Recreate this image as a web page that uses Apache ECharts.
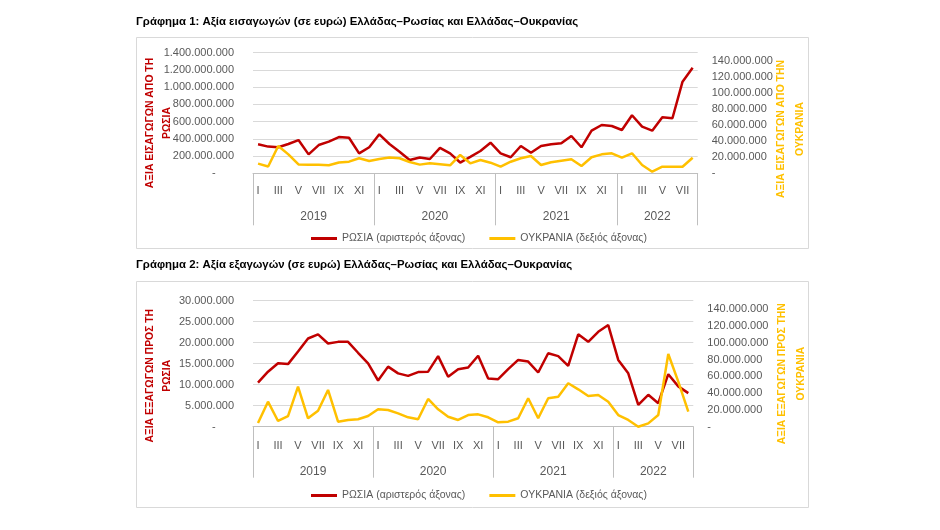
<!DOCTYPE html>
<html>
<head>
<meta charset="utf-8">
<script src="https://cdn.jsdelivr.net/npm/echarts@6/dist/echarts.min.js"></script>
<style>
html, body { margin: 0; padding: 0; background: #fff; }
#chart { width: 940px; height: 530px; }
</style>
</head>
<body>
<div id="chart"></div>
<script>
// months shown on the first axis row, years on the second
var monthNames = ['I', 'II', 'III', 'IV', 'V', 'VI', 'VII', 'VIII', 'IX', 'X', 'XI', 'XII'];
var years = ['2019', '2020', '2021', '2022'];
var monthsPerYear = [12, 12, 12, 8];

// Γράφημα 1: εισαγωγές (ευρώ)
var russiaImports = [
  337000000, 310000000, 302000000, 340000000, 386000000, 220000000, 328000000, 367000000, 421000000, 413000000, 232000000, 302000000,
  453000000, 340000000, 251000000, 154000000, 184000000, 166000000, 295000000, 232000000, 125000000, 190000000, 259000000, 355000000,
  232000000, 186000000, 317000000, 239000000, 317000000, 337000000, 348000000, 433000000, 302000000, 495000000, 561000000, 549000000,
  503000000, 674000000, 541000000, 495000000, 650000000, 639000000, 1064000000, 1226000000
];
var ukraineImports = [
  12000000, 8500000, 34000000, 23500000, 11000000, 10500000, 10500000, 10000000, 13500000, 14500000, 18700000, 15300000,
  17800000, 19600000, 18700000, 14000000, 10800000, 12400000, 11400000, 9900000, 22800000, 12400000, 16500000, 13200000,
  8200000, 14400000, 18700000, 21500000, 10300000, 13700000, 15700000, 17400000, 9100000, 19900000, 23600000, 24900000,
  19400000, 24900000, 10300000, 2000000, 8200000, 8200000, 8200000, 19400000
];

// Γράφημα 2: εξαγωγές (ευρώ)
var russiaExports = [
  10500000, 13100000, 15100000, 14900000, 17900000, 21000000, 22000000, 19800000, 20200000, 20200000, 17600000, 15100000,
  11000000, 14300000, 12700000, 12100000, 13000000, 13100000, 16800000, 11900000, 13700000, 14100000, 16900000, 11500000,
  11300000, 13700000, 15900000, 15500000, 12900000, 17500000, 16800000, 14500000, 22000000, 20200000, 22600000, 24200000,
  15900000, 12700000, 5200000, 7600000, 5600000, 12500000, 9600000, 8000000
];
var ukraineExports = [
  4500000, 29800000, 6800000, 12700000, 47600000, 10000000, 19000000, 43700000, 6000000, 8000000, 8800000, 12700000,
  20700000, 19900000, 15900000, 11200000, 8800000, 33000000, 20700000, 11900000, 8000000, 13900000, 14700000, 11200000,
  5200000, 6000000, 10000000, 33800000, 10000000, 33800000, 35700000, 51700000, 44500000, 36500000, 37700000, 29800000,
  13900000, 8000000, 0, 4000000, 13900000, 86500000, 53600000, 17900000
];

// axis ranges (tick labels)
var leftMax1 = 1400000000, leftStep1 = 200000000;
var leftMax2 = 30000000, leftStep2 = 5000000;
var rightMax = 150000000, rightStep = 20000000;

var RED = '#c00000', YELLOW = '#ffc000', GREY = '#595959';
var FONT = 'Liberation Sans';

var monthAxisData = [];
years.forEach(function (y, k) {
  monthAxisData = monthAxisData.concat(monthNames.slice(0, monthsPerYear[k]));
});
var yearBounds = [0];
monthsPerYear.forEach(function (n) { yearBounds.push(yearBounds[yearBounds.length - 1] + n); });
var yearLabelAt = {};
years.forEach(function (y, k) { yearLabelAt[(yearBounds[k] + yearBounds[k + 1]) / 2] = y; });
var yearAxisData = [];
for (var b = 0; b <= monthAxisData.length; b++) yearAxisData.push(String(b));

function fmt(v) {
  if (v === 0) return '-';
  return String(v).replace(/\B(?=(\d{3})+(?!\d))/g, '.');
}

function monthAxis(grid, margin) {
  return {
    type: 'category', gridIndex: grid, data: monthAxisData, boundaryGap: true,
    axisLine: { lineStyle: { color: '#bfbfbf', width: 1 } },
    axisTick: { show: false },
    axisLabel: { interval: 1, color: GREY, fontSize: 11, fontFamily: FONT, margin: margin }
  };
}
function yearAxis(grid, tickLen, labelMargin) {
  return {
    type: 'category', gridIndex: grid, position: 'bottom', data: yearAxisData, boundaryGap: false,
    axisLine: { show: false },
    axisTick: {
      show: true, length: tickLen, lineStyle: { color: '#bfbfbf' },
      interval: function (i) { return yearBounds.indexOf(i) >= 0; }
    },
    axisLabel: {
      color: GREY, fontSize: 12, fontFamily: FONT, margin: labelMargin,
      interval: function (i) { return yearLabelAt[i] !== undefined; },
      formatter: function (v, i) { return yearLabelAt[i] || ''; }
    },
    splitLine: { show: false }
  };
}
function leftAxis(grid, max, step, name, shift) {
  return {
    type: 'value', gridIndex: grid, min: 0, max: max, interval: step, position: 'left',
    name: name, nameLocation: 'middle', nameRotate: 90, nameGap: 77, nameMoveOverlap: false,
    nameTextStyle: { color: RED, fontWeight: 'bold', fontSize: 10.4, fontFamily: FONT, lineHeight: 17.5,
      padding: [0, shift * 2, 0, 0] },
    axisLine: { show: false }, axisTick: { show: false },
    axisLabel: {
      color: GREY, fontSize: 11, fontFamily: FONT, margin: 19,
      formatter: function (v) { return v === 0 ? '-      ' : fmt(v); }
    },
    splitLine: { lineStyle: { color: '#d9d9d9', width: 1 } }
  };
}
function rightAxis(grid, name, shift, gap) {
  return {
    type: 'value', gridIndex: grid, min: 0, max: rightMax, interval: rightStep, position: 'right',
    name: name, nameLocation: 'middle', nameRotate: 90, nameGap: gap, nameMoveOverlap: false,
    nameTextStyle: { color: YELLOW, fontWeight: 'bold', fontSize: 10.4, fontFamily: FONT, lineHeight: 19,
      padding: [0, shift * 2, 0, 0] },
    axisLine: { show: false }, axisTick: { show: false },
    axisLabel: {
      color: GREY, fontSize: 11, fontFamily: FONT, margin: 14,
      formatter: function (v) { return v % rightStep ? '' : fmt(v); }
    },
    splitLine: { show: false }
  };
}
function lineSeries(name, color, xi, yi, data) {
  return {
    name: name, type: 'line', xAxisIndex: xi, yAxisIndex: yi, data: data,
    symbol: 'none', smooth: false,
    lineStyle: { color: color, width: 2.5 }, itemStyle: { color: color }
  };
}

var ruName = 'ΡΩΣΙΑ (αριστερός άξονας)';
var uaName = 'ΟΥΚΡΑΝΙΑ (δεξιός άξονας)';

function legendAt(top) {
  return {
    left: 311, top: top, itemGap: 24, itemWidth: 26, itemHeight: 3, icon: 'rect', padding: 0,
    data: [{ name: ruName, itemStyle: { color: RED } }, { name: uaName, itemStyle: { color: YELLOW } }],
    textStyle: { color: GREY, fontSize: 10.5, fontFamily: FONT }
  };
}

var myChart = echarts.init(document.getElementById('chart'), null, { renderer: 'canvas' });
var option = {
  backgroundColor: '#fff',
  animation: false,
  graphic: [
    { type: 'rect', shape: { x: 136.5, y: 37.5, width: 672, height: 211 }, style: { fill: '#fff', stroke: '#d9d9d9', lineWidth: 1 }, z: -10 },
    { type: 'rect', shape: { x: 136.5, y: 281.5, width: 672, height: 226 }, style: { fill: '#fff', stroke: '#d9d9d9', lineWidth: 1 }, z: -10 }
  ],
  title: [
    { text: 'Γράφημα 1: Αξία εισαγωγών (σε ευρώ) Ελλάδας–Ρωσίας και Ελλάδας–Ουκρανίας', left: 136, top: 16, padding: 0,
      textStyle: { fontSize: 11.4, fontWeight: 'bold', color: '#000', fontFamily: FONT } },
    { text: 'Γράφημα 2: Αξία εξαγωγών (σε ευρώ) Ελλάδας–Ρωσίας και Ελλάδας–Ουκρανίας', left: 136, top: 259, padding: 0,
      textStyle: { fontSize: 11.4, fontWeight: 'bold', color: '#000', fontFamily: FONT } }
  ],
  legend: [legendAt(233), legendAt(490)],
  grid: [
    { left: 253, top: 52.7, width: 444.7, height: 120.6 },
    { left: 253, top: 300.7, width: 440.3, height: 126 }
  ],
  xAxis: [monthAxis(0, 12), yearAxis(0, 52, 37), monthAxis(1, 14), yearAxis(1, 51, 39)],
  yAxis: [
    leftAxis(0, leftMax1, leftStep1, 'ΑΞΙΑ ΕΙΣΑΓΩΓΩΝ ΑΠΟ ΤΗ\nΡΩΣΙΑ', 10),
    rightAxis(0, 'ΑΞΙΑ ΕΙΣΑΓΩΓΩΝ ΑΠΟ ΤΗΝ\nΟΥΚΡΑΝΙΑ', 16, 74),
    leftAxis(1, leftMax2, leftStep2, 'ΑΞΙΑ ΕΞΑΓΩΓΩΝ ΠΡΟΣ ΤΗ\nΡΩΣΙΑ', 12),
    rightAxis(1, 'ΑΞΙΑ ΕΞΑΓΩΓΩΝ ΠΡΟΣ ΤΗΝ\nΟΥΚΡΑΝΙΑ', 10, 79)
  ],
  series: [
    lineSeries(ruName, RED, 0, 0, russiaImports),
    lineSeries(uaName, YELLOW, 0, 1, ukraineImports),
    lineSeries(ruName, RED, 2, 2, russiaExports),
    lineSeries(uaName, YELLOW, 2, 3, ukraineExports)
  ]
};
myChart.setOption(option);
</script>
</body>
</html>
